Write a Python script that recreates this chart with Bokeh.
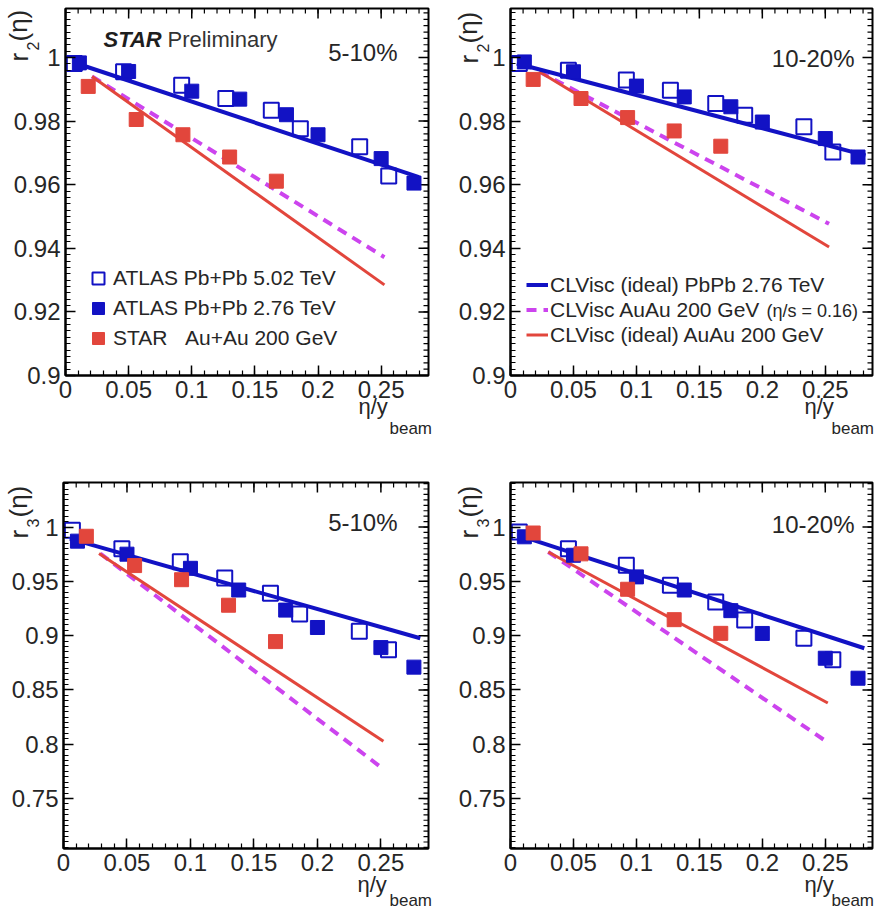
from bokeh.plotting import figure
from bokeh.models import FixedTicker, LinearAxis, Range1d, Label, Legend, LegendItem, GridBox
from bokeh.layouts import column, row
from bokeh.embed import file_html
from bokeh.resources import INLINE

FONT = "Liberation Sans"

# ---------------- data ----------------
X_ATLAS_502 = [0.007, 0.046, 0.092, 0.127, 0.163, 0.186, 0.233, 0.256]
X_ATLAS_276 = [0.011, 0.050, 0.100, 0.138, 0.175, 0.200, 0.250, 0.276]
X_STAR = [0.018, 0.056, 0.093, 0.130, 0.167]

R2_0510_ATLAS_502 = [0.9981, 0.9955, 0.9913, 0.9871, 0.9834, 0.9776, 0.9719, 0.9627]
R2_0510_ATLAS_276 = [0.9983, 0.9956, 0.9894, 0.9869, 0.9820, 0.9757, 0.9682, 0.9605]
R2_0510_STAR = [0.9909, 0.9805, 0.9757, 0.9687, 0.9611]

R2_1020_ATLAS_502 = [0.9981, 0.9960, 0.9929, 0.9897, 0.9855, 0.9818, 0.9782, 0.9703]
R2_1020_ATLAS_276 = [0.9986, 0.9955, 0.9910, 0.9876, 0.9845, 0.9797, 0.9745, 0.9687]
R2_1020_STAR = [0.9931, 0.9871, 0.9811, 0.9769, 0.9721]

R3_0510_ATLAS_502 = [0.997, 0.980, 0.968, 0.953, 0.939, 0.920, 0.904, 0.887]
R3_0510_ATLAS_276 = [0.987, 0.975, 0.962, 0.942, 0.9235, 0.9075, 0.889, 0.871]
R3_0510_STAR = [0.9915, 0.9645, 0.9515, 0.928, 0.8945]

R3_1020_ATLAS_502 = [0.9954, 0.980, 0.9648, 0.9465, 0.931, 0.9144, 0.8976, 0.8777]
R3_1020_ATLAS_276 = [0.991, 0.974, 0.9541, 0.942, 0.923, 0.902, 0.8792, 0.8608]
R3_1020_STAR = [0.9945, 0.9753, 0.9427, 0.9147, 0.9021]

# CLVisc model curves
R2_0510_PBPB_X = [0.009, 0.280]
R2_0510_PBPB_Y = [0.9981, 0.9624]
R2_0510_VISC_X = [0.021, 0.2526]
R2_0510_VISC_Y = [0.9940, 0.9372]
R2_0510_IDEAL_X = [0.021, 0.2526]
R2_0510_IDEAL_Y = [0.9940, 0.9285]

R2_1020_PBPB_X = [0.005, 0.282]
R2_1020_PBPB_Y = [0.9981, 0.9692]
R2_1020_VISC_X = [0.023, 0.253]
R2_1020_VISC_Y = [0.9955, 0.9477]
R2_1020_IDEAL_X = [0.023, 0.253]
R2_1020_IDEAL_Y = [0.9955, 0.9404]

R3_0510_PBPB_X = [0.005, 0.281]
R3_0510_PBPB_Y = [0.9893, 0.8976]
R3_0510_VISC_X = [0.029, 0.2507]
R3_0510_VISC_Y = [0.9756, 0.7783]
R3_0510_IDEAL_X = [0.028, 0.252]
R3_0510_IDEAL_Y = [0.9756, 0.8027]

R3_1020_PBPB_X = [0.0066, 0.281]
R3_1020_PBPB_Y = [0.9924, 0.8884]
R3_1020_VISC_X = [0.030, 0.2507]
R3_1020_VISC_Y = [0.9770, 0.8027]
R3_1020_IDEAL_X = [0.030, 0.252]
R3_1020_IDEAL_Y = [0.9770, 0.8380]

# axes
X_TICKS = [0.0, 0.05, 0.1, 0.15, 0.2, 0.25]
X_TICK_LABELS = ["0", "0.05", "0.1", "0.15", "0.2", "0.25"]
Y2_TICKS = [0.9, 0.92, 0.94, 0.96, 0.98, 1.0]
Y2_TICK_LABELS = ["0.9", "0.92", "0.94", "0.96", "0.98", "1"]
Y3_TICKS = [0.75, 0.8, 0.85, 0.9, 0.95, 1.0]
Y3_TICK_LABELS = ["0.75", "0.8", "0.85", "0.9", "0.95", "1"]

LEGEND_DATA = ["ATLAS Pb+Pb 5.02 TeV", "ATLAS Pb+Pb 2.76 TeV", "STAR\u00a0\u00a0\u00a0Au+Au 200 GeV"]
LEGEND_MODEL = ["CLVisc (ideal) PbPb 2.76 TeV", "CLVisc AuAu 200 GeV", "CLVisc (ideal) AuAu 200 GeV"]

X_RANGE = (0.0, 0.2875)
Y2_RANGE = (0.9, 1.0154)
Y3_RANGE = (0.704, 1.041)

BLUE = "#1212c4"
RED = "#e2463c"
MAGENTA = "#cc44ee"
TEXT = "#262626"


def tick_list(lo, hi, step):
    n = int(round((hi - lo) / step))
    return [round(lo + i * step, 4) for i in range(n + 1)]


def style_axis(ax, ticks, minor, labels):
    ax.ticker = FixedTicker(ticks=ticks, minor_ticks=minor)
    ax.major_tick_in = 10
    ax.major_tick_out = 0
    ax.minor_tick_in = 5
    ax.minor_tick_out = 0
    ax.major_tick_line_color = "black"
    ax.major_tick_line_width = 1.5
    ax.minor_tick_line_color = "black"
    ax.minor_tick_line_width = 1.2
    ax.axis_line_color = "black"
    ax.axis_line_width = 2
    ax.major_label_overrides = dict(zip(ticks, labels))
    ax.major_label_text_font = FONT
    ax.major_label_text_font_size = "24px"
    ax.major_label_text_color = TEXT
    ax.major_label_standoff = 5


def lab(p, text, x, y, size, units="screen", **kw):
    p.add_layout(Label(x=x, y=y, x_units=units, y_units=units, text=text,
                       text_font=FONT, text_font_size=size,
                       text_color=kw.pop("color", TEXT), **kw))


def make_panel(width, height, borders, y_range, y_ticks, y_labels, y_minor,
               data, model, cent, cent_pos):
    bl, br, bt, bb = borders
    p = figure(width=width, height=height, x_range=Range1d(*X_RANGE), y_range=Range1d(*y_range),
               output_backend="svg", toolbar_location=None,
               x_axis_type=None, y_axis_type=None,
               min_border_left=bl, min_border_right=br, min_border_top=bt, min_border_bottom=bb)
    p.outline_line_color = "black"
    p.outline_line_width = 2
    p.background_fill_color = "white"
    p.border_fill_color = "white"

    x_minor = tick_list(0.0, 0.28, 0.01)

    bx = LinearAxis()
    style_axis(bx, X_TICKS, x_minor, X_TICK_LABELS)
    p.add_layout(bx, "below")
    ly = LinearAxis()
    style_axis(ly, y_ticks, y_minor, y_labels)
    p.add_layout(ly, "left")

    # ticks on the top and right edges of the frame (mirror of the axes)
    frame_w = width - bl - br
    frame_h = height - bt - bb
    x_span = X_RANGE[1] - X_RANGE[0]
    y_span = y_range[1] - y_range[0]
    for vals, length, lw in ((X_TICKS, 10, 1.5), (x_minor, 5, 1.2)):
        dy = length * y_span / frame_h
        p.segment(x0=vals, x1=vals, y0=[y_range[1]] * len(vals), y1=[y_range[1] - dy] * len(vals),
                  line_color="black", line_width=lw)
    for vals, length, lw in ((y_ticks, 10, 1.5), (y_minor, 5, 1.2)):
        dx = length * x_span / frame_w
        p.segment(x0=[X_RANGE[1]] * len(vals), x1=[X_RANGE[1] - dx] * len(vals), y0=vals, y1=vals,
                  line_color="black", line_width=lw)

    (px_, py_), (vx_, vy_), (ix_, iy_) = model
    r_visc = p.line(vx_, vy_, line_color=MAGENTA, line_width=4, line_dash="10 7")
    r_ideal = p.line(ix_, iy_, line_color=RED, line_width=3)
    r_pbpb = p.line(px_, py_, line_color=BLUE, line_width=4)

    y502, y276, ystar = data
    r_open = p.scatter(X_ATLAS_502, y502, marker="square", size=15, fill_color=None,
                       line_color=BLUE, line_width=2)
    r_fill = p.scatter(X_ATLAS_276, y276, marker="square", size=14, fill_color=BLUE,
                       line_color=BLUE)
    r_star = p.scatter(X_STAR, ystar, marker="square", size=14, fill_color=RED,
                       line_color=RED)

    lab(p, cent, cent_pos[0], cent_pos[1], "24px", text_align="right")
    return p, (r_open, r_fill, r_star), (r_pbpb, r_visc, r_ideal)


Y2_MINOR = tick_list(0.9, 1.014, 0.002)
Y3_MINOR = tick_list(0.705, 1.04, 0.005)

# ---------------- panels ----------------
p1, d1, m1 = make_panel(438, 455, (65, 10, 8, 80), Y2_RANGE, Y2_TICKS, Y2_TICK_LABELS, Y2_MINOR,
                        (R2_0510_ATLAS_502, R2_0510_ATLAS_276, R2_0510_STAR),
                        ((R2_0510_PBPB_X, R2_0510_PBPB_Y), (R2_0510_VISC_X, R2_0510_VISC_Y),
                         (R2_0510_IDEAL_X, R2_0510_IDEAL_Y)),
                        "5-10%", (332, 310))
p2, d2, m2 = make_panel(438, 455, (72, 4, 8, 80), Y2_RANGE, Y2_TICKS, Y2_TICK_LABELS, Y2_MINOR,
                        (R2_1020_ATLAS_502, R2_1020_ATLAS_276, R2_1020_STAR),
                        ((R2_1020_PBPB_X, R2_1020_PBPB_Y), (R2_1020_VISC_X, R2_1020_VISC_Y),
                         (R2_1020_IDEAL_X, R2_1020_IDEAL_Y)),
                        "10-20%", (344, 304))
p3, d3, m3 = make_panel(438, 456, (63, 10, 27, 63), Y3_RANGE, Y3_TICKS, Y3_TICK_LABELS, Y3_MINOR,
                        (R3_0510_ATLAS_502, R3_0510_ATLAS_276, R3_0510_STAR),
                        ((R3_0510_PBPB_X, R3_0510_PBPB_Y), (R3_0510_VISC_X, R3_0510_VISC_Y),
                         (R3_0510_IDEAL_X, R3_0510_IDEAL_Y)),
                        "5-10%", (334, 313))
p4, d4, m4 = make_panel(438, 456, (72, 4, 27, 63), Y3_RANGE, Y3_TICKS, Y3_TICK_LABELS, Y3_MINOR,
                        (R3_1020_ATLAS_502, R3_1020_ATLAS_276, R3_1020_STAR),
                        ((R3_1020_PBPB_X, R3_1020_PBPB_Y), (R3_1020_VISC_X, R3_1020_VISC_Y),
                         (R3_1020_IDEAL_X, R3_1020_IDEAL_Y)),
                        "10-20%", (344, 311))

# STAR Preliminary
lab(p1, "STAR", 38, 324, "22px", text_font_style="bold italic", color="#1e1e1e")
lab(p1, "Preliminary", 102, 324, "22px", color="#333333")

# legends
leg1 = Legend(items=[LegendItem(label=t, renderers=[r]) for t, r in zip(LEGEND_DATA, d1)],
              location=(18, 22), orientation="vertical", padding=0, margin=0, spacing=0,
              glyph_width=30, glyph_height=30, label_standoff=0, label_height=30,
              label_text_font=FONT, label_text_font_size="21px", label_text_color=TEXT,
              border_line_color=None, background_fill_alpha=0)
p1.add_layout(leg1)

leg2 = Legend(items=[LegendItem(label=t, renderers=[r]) for t, r in zip(LEGEND_MODEL, m2)],
              location=(16, 28), orientation="vertical", padding=0, margin=0, spacing=0,
              glyph_width=22, glyph_height=25, label_standoff=2, label_height=25,
              label_text_font=FONT, label_text_font_size="21px", label_text_color=TEXT,
              border_line_color=None, background_fill_alpha=0)
p2.add_layout(leg2)
lab(p2, "(\u03b7/s = 0.16)", 256, 65, "18px", text_baseline="middle")

# ---------------- transparent text layer for the axis titles (page pixels) ----------------
overlay = figure(width=876, height=911, x_range=Range1d(0, 876), y_range=Range1d(911, 0),
                 output_backend="svg", toolbar_location=None, x_axis_type=None, y_axis_type=None,
                 min_border=0)
overlay.outline_line_color = None
overlay.background_fill_alpha = 0
overlay.border_fill_alpha = 0

# y titles r_n(eta), reading bottom to top:
# (baseline x, start of "r", sub-index, start of sub-index, start of "(eta)")
Y_TITLES = [(33, 61, "2", 50, 41), (483, 63, "2", 52, 43), (33, 538, "3", 527, 517), (483, 538, "3", 527, 517)]
for bx_, r0, sub, s0, e0 in Y_TITLES:
    lab(overlay, "r", bx_, r0, "26px", units="data", angle=1.5708)
    lab(overlay, sub, bx_ + 5, s0, "16px", units="data", angle=1.5708)
    lab(overlay, "(\u03b7)", bx_, e0, "26px", units="data", angle=1.5708)

# x titles eta / y_beam
X_TITLES = [(358, 418, 389, 437), (804, 418, 831, 437), (357, 896, 389, 909), (804, 896, 831, 909)]
for ex, ey, sx, sy in X_TITLES:
    lab(overlay, "\u03b7/y", ex, ey, "22px", units="data")
    lab(overlay, "beam", sx, sy, "17px", units="data")

panels = column(row(p1, p2), row(p3, p4))
text_layer = column(overlay)
grid = GridBox(children=[(panels, 0, 0), (text_layer, 0, 0)])
open("out.html", "w").write(file_html(grid, INLINE))
